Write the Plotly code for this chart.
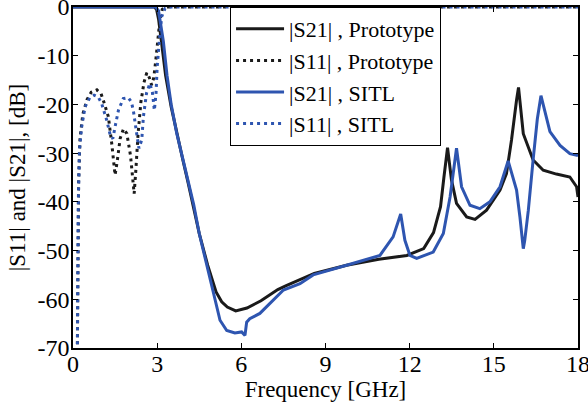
import plotly.graph_objects as go

# ---------------- data ----------------
f_s21_proto = [0, 2.9, 2.98, 3.05, 3.15, 3.3, 3.5, 3.7, 3.9, 4.1, 4.3, 4.5, 4.8, 5.1, 5.3, 5.5,
               5.8, 6.2, 6.7, 7.3, 7.6, 8.1, 8.6, 9.75, 10.9, 11.9, 12.5, 12.85, 13.1, 13.22,
               13.35, 13.49, 13.67, 14.03, 14.33, 14.74, 15.22, 15.45, 15.63, 15.81, 15.88,
               16.05, 16.4, 16.76, 17.23, 17.71, 17.95, 18.0]
s21_proto = [0, 0, -0.5, -2.5, -7, -14, -20.5, -26, -31, -36, -41, -46.5, -53, -58.5, -60.5, -61.6,
             -62.4, -61.8, -60.3, -58.0, -57.2, -56.0, -54.7, -53.0, -51.8, -51.0, -49.6, -46.3,
             -41.0, -35.0, -28.9, -35.5, -40.3, -43.1, -43.6, -41.7, -37.6, -34.2, -27.3, -19.1,
             -16.5, -26.0, -31.4, -33.5, -34.3, -34.9, -36.9, -39.0]

f_s11_proto = [0.15, 0.17, 0.2, 0.25, 0.35, 0.5, 0.65, 0.85, 1.0, 1.1, 1.26, 1.38, 1.5, 1.58,
               1.68, 1.8, 1.92, 2.05, 2.12, 2.18, 2.24, 2.32, 2.42, 2.53, 2.63, 2.72, 2.8, 2.88,
               2.95, 3.02, 3.1, 3.18, 3.3, 18.0]
s11_proto = [-75, -50, -36, -27, -22, -19, -17.5, -17, -17.8, -19.5, -22.5, -28, -34.5, -31.5,
             -27, -25, -26, -30.5, -35, -38.3, -33.5, -26, -19.5, -15.5, -13.5, -14.5, -16,
             -14.5, -11, -6.5, -2.5, -0.5, 0, 0]

f_s21_sitl = [0, 2.95, 3.05, 3.12, 3.22, 3.35, 3.5, 3.7, 3.9, 4.1, 4.3, 4.5, 4.8, 5.0, 5.24, 5.48,
              5.77, 6.01, 6.13, 6.19, 6.3, 6.66, 7.0, 7.5, 8.09, 8.56, 9.75, 10.94, 11.41, 11.68,
              11.83, 12.01, 12.25, 12.84, 13.2, 13.44, 13.67, 13.85, 14.15, 14.5, 14.86, 15.22,
              15.51, 15.81, 15.93, 16.05, 16.1, 16.23, 16.4, 16.55, 16.68, 16.8, 17.0, 17.36,
              17.71, 18.0]
s21_sitl = [0, 0, -0.8, -3, -7, -14, -20, -26, -31, -35.5, -40.5, -46.5, -53.5, -58.1, -64.3, -66.4,
            -66.9, -66.7, -67.4, -64.7, -64.0, -62.9, -61.0, -58.1, -56.8, -55.0, -53.0, -51.0,
            -47.2, -42.5, -47.9, -51.0, -51.6, -50.3, -46.5, -39.0, -29.0, -36.9, -40.7, -41.4,
            -40.0, -36.9, -31.6, -37.6, -43.1, -49.6, -48.0, -41.7, -31.4, -23.0, -18.2, -21.0,
            -25.6, -28.4, -30.1, -30.5]

f_s11_sitl = [0.15, 0.17, 0.19, 0.23, 0.31, 0.43, 0.6, 0.75, 0.9, 1.02, 1.2, 1.34, 1.42, 1.52,
              1.62, 1.79, 1.97, 2.08, 2.15, 2.27, 2.35, 2.45, 2.51, 2.62, 2.74, 2.83, 2.9, 2.96,
              3.0, 3.08, 3.16, 3.28, 3.5, 18.0]
s11_sitl = [-75, -55, -39.7, -29.4, -24.6, -20.5, -18.6, -18.1, -18.5, -19.8, -23.2, -26.6, -27,
            -24, -21.2, -18.8, -18.6, -19.5, -21.2, -26, -29, -27.3, -22.5, -17.7, -15.7, -17.5,
            -21.2, -17.7, -12.3, -6.8, -2, -0.3, 0, 0]

x_ticks = [0, 3, 6, 9, 12, 15, 18]
y_ticks = [-70, -60, -50, -40, -30, -20, -10, 0]
y_tick_text = ["-70", "-60", "-50", "-40", "-30", "-20", "-10", "0"]

names = ["|S21| , Prototype", "|S11| , Prototype", "|S21| , SITL", "|S11| , SITL"]

# ---------------- figure ----------------
BLACK = "#1a1a1a"
BLUE = "#2e55b0"
FONT = "Liberation Serif"

fig = go.Figure()
fig.add_trace(go.Scatter(x=f_s21_proto, y=s21_proto, mode="lines", name=names[0],
                         line=dict(color=BLACK, width=3)))
fig.add_trace(go.Scatter(x=f_s11_proto, y=s11_proto, mode="lines", name=names[1],
                         line=dict(color=BLACK, width=3, dash="3px,4px")))
fig.add_trace(go.Scatter(x=f_s21_sitl, y=s21_sitl, mode="lines", name=names[2],
                         line=dict(color=BLUE, width=3)))
fig.add_trace(go.Scatter(x=f_s11_sitl, y=s11_sitl, mode="lines", name=names[3],
                         line=dict(color=BLUE, width=3, dash="3px,4px")))

axis_common = dict(showgrid=False, zeroline=False, showline=True, linecolor="black",
                   linewidth=1.5, mirror="ticks", ticks="inside", ticklen=5,
                   tickcolor="black", tickwidth=1, automargin=False,
                   ticklabeloverflow="allow",
                   tickfont=dict(family=FONT, size=24, color="black"))

fig.update_xaxes(range=[0, 18], tickvals=x_ticks, ticklabelstandoff=-7,
                 title=dict(text="Frequency [GHz]", font=dict(family=FONT, size=23, color="black"),
                            standoff=0),
                 **axis_common)
fig.update_yaxes(range=[-70, 0], tickvals=y_ticks, ticktext=y_tick_text, ticklabelstandoff=-3,
                 title=dict(text="|S11| and |S21|, [dB]", font=dict(family=FONT, size=23, color="black"),
                            standoff=5),
                 **axis_common)

fig.update_layout(
    width=588, height=406,
    margin=dict(l=73, r=10, t=7, b=58),
    paper_bgcolor="white", plot_bgcolor="white",
    showlegend=True,
    legend=dict(x=0.311, y=1.0, xanchor="left", yanchor="top",
                bgcolor="white", bordercolor="black", borderwidth=1,
                font=dict(family=FONT, size=22, color="black"),
                itemwidth=48),
)

fig.write_html("out.html", config={"displayModeBar": False},
               post_script="document.body.style.margin='0';")
